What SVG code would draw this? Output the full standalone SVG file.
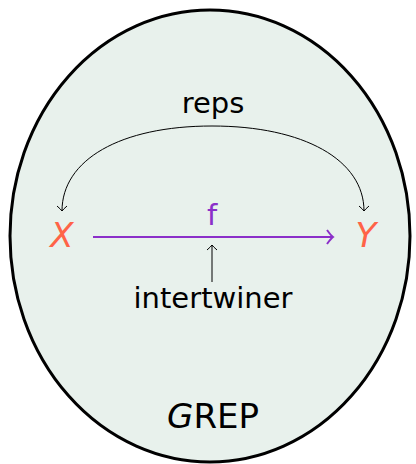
<svg xmlns="http://www.w3.org/2000/svg" width="416" height="464" viewBox="0 0 416 464">
<style>
text{font-family:"DejaVu Sans","Liberation Sans",sans-serif;text-anchor:middle}
.lbl{font-size:29px;fill:#000}
.obj{font-size:34px;font-style:italic;fill:#FF6347}
.big{font-size:34px;fill:#000}
.thin{fill:none;stroke:#000;stroke-width:1}
</style>
<defs>
<marker id="hk" viewBox="-6 -6 8 12" markerWidth="8" markerHeight="12" refX="0" refY="0" orient="auto" markerUnits="userSpaceOnUse">
<path d="M-5,-5 Q-1.5,-1 0,0 Q-1.5,1 -5,5" fill="none" stroke="#000" stroke-width="1"/>
</marker>
<marker id="hkp" viewBox="-8 -8 10 16" markerWidth="10" markerHeight="16" refX="0" refY="0" orient="auto" markerUnits="userSpaceOnUse">
<path d="M-6,-7 Q-2,-1.5 0,0 Q-2,1.5 -6,7" fill="none" stroke="#8B2FC9" stroke-width="2"/>
</marker>
</defs>
<g id="grep">
<ellipse cx="210" cy="236" rx="200" ry="226" fill="#E8F1EC" stroke="#000" stroke-width="3"/>
<text class="big" x="213" y="428"><tspan font-style="italic">G</tspan>REP</text>
</g>
<g id="X"><text class="obj" x="62" y="247">X</text></g>
<g id="Y"><text class="obj" x="366" y="247">Y</text></g>
<g id="reps"><text class="lbl" x="213" y="113">reps</text></g>
<g id="intertwiner"><text class="lbl" x="213" y="308">intertwiner</text></g>
<g id="f"><text class="lbl" x="212" y="225" fill="#8B2FC9" style="fill:#8B2FC9">f</text></g>
<g id="connectors">
<path class="thin" d="M212,126 C120,126 62,160 62,211" marker-end="url(#hk)"/>
<path class="thin" d="M212,126 C304,126 364,160 364,211" marker-end="url(#hk)"/>
<path d="M93,237 L333,237" fill="none" stroke="#8B2FC9" stroke-width="2" marker-end="url(#hkp)"/>
<path class="thin" d="M212,282 L212,245" marker-end="url(#hk)"/>
</g>
</svg>
